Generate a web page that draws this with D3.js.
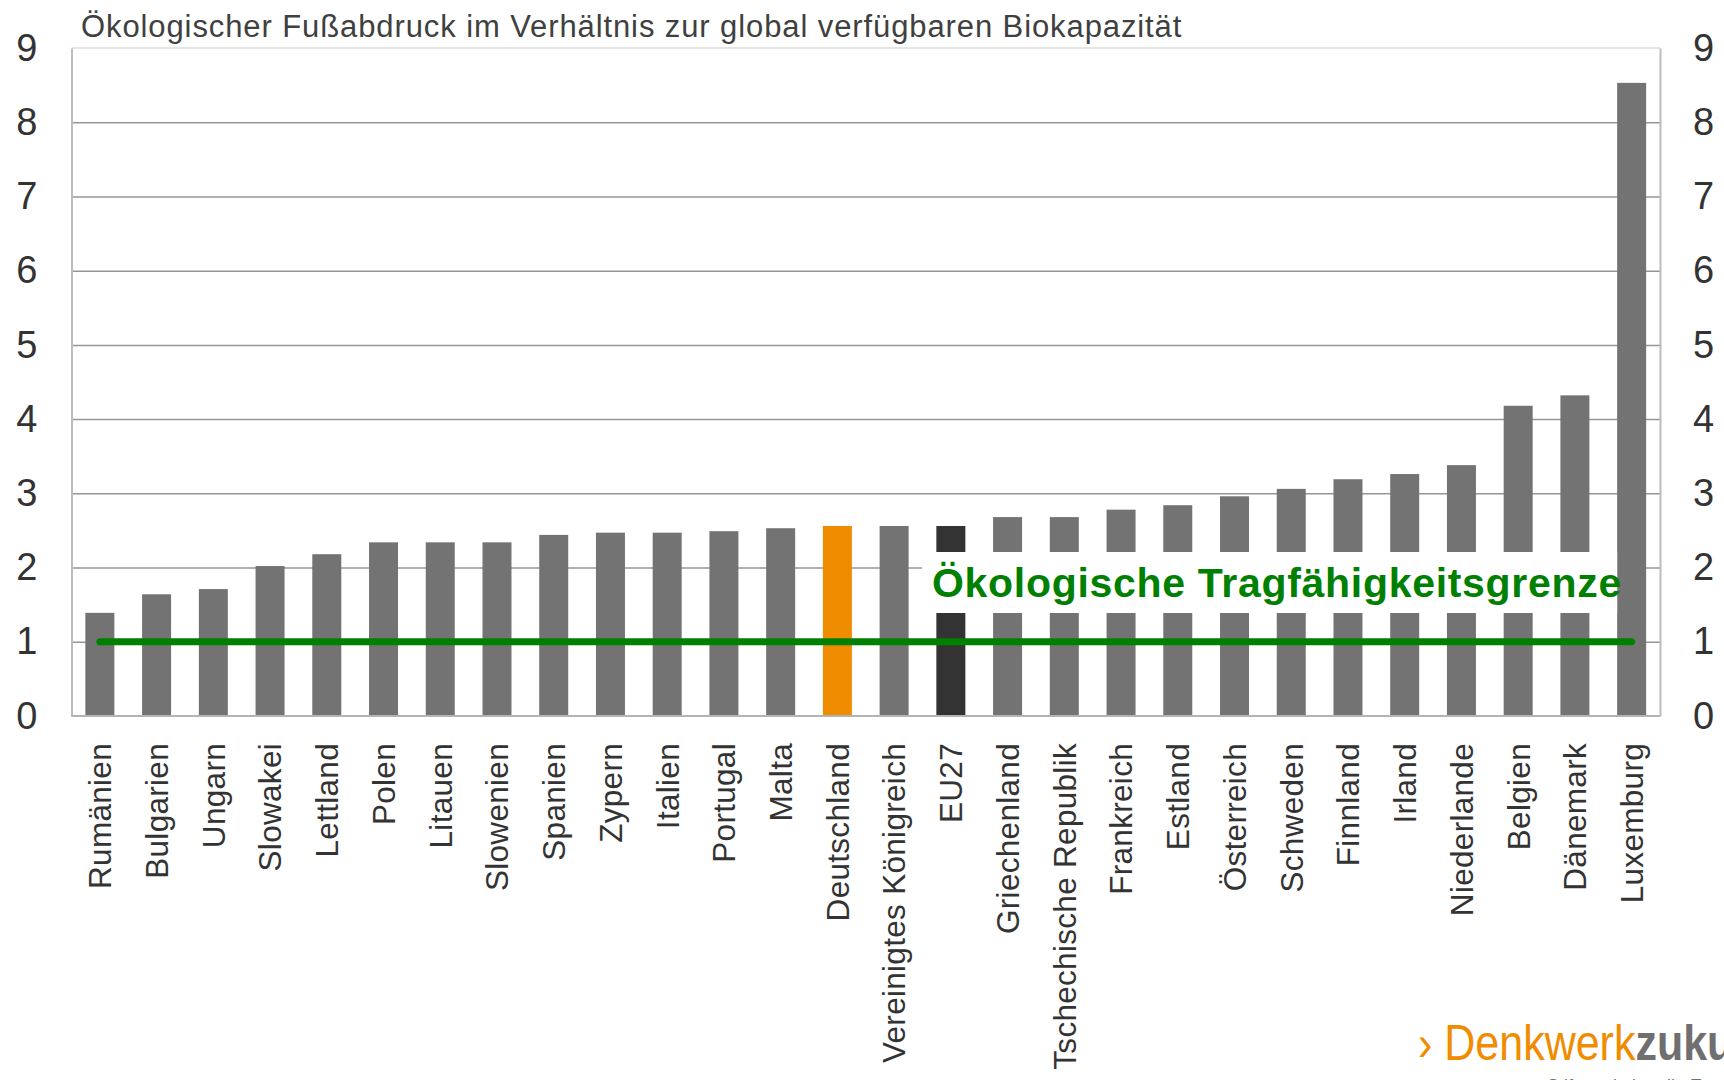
<!DOCTYPE html>
<html>
<head>
<meta charset="utf-8">
<script src="https://cdn.jsdelivr.net/npm/d3@7"></script>
<style>
  body { margin: 0; background: #fff; }
  svg { display: block; font-family: "Liberation Sans", Arial, sans-serif; }
</style>
</head>
<body>
<div id="chart"></div>
<script>
const countries = ["Rumänien", "Bulgarien", "Ungarn", "Slowakei", "Lettland", "Polen", "Litauen",
  "Slowenien", "Spanien", "Zypern", "Italien", "Portugal", "Malta", "Deutschland",
  "Vereinigtes Königreich", "EU27", "Griechenland", "Tschechische Republik", "Frankreich",
  "Estland", "Österreich", "Schweden", "Finnland", "Irland", "Niederlande", "Belgien",
  "Dänemark", "Luxemburg"];
const values = [1.39, 1.64, 1.71, 2.02, 2.18, 2.34, 2.34, 2.34, 2.44, 2.47, 2.47, 2.49, 2.53, 2.56,
  2.56, 2.56, 2.68, 2.68, 2.78, 2.84, 2.96, 3.06, 3.19, 3.26, 3.38, 4.18, 4.32, 8.53];
const yTicks = [0, 1, 2, 3, 4, 5, 6, 7, 8, 9];
const limitValue = 1;
const title = "Ökologischer Fußabdruck im Verhältnis zur global verfügbaren Biokapazität";
const limitLabel = "Ökologische Tragfähigkeitsgrenze";

const W = 1724, H = 1080;
const mLeft = 71.5, mRight = 1660, mTop = 48, mBottom = 716;

const data = countries.map((c, i) => ({ country: c, value: values[i] }));

const svg = d3.select("#chart").append("svg")
  .attr("width", W)
  .attr("height", H);

const x = d3.scaleBand().domain(countries).range([mLeft, mRight])
  .paddingInner(0.489).paddingOuter(0.2445);
const y = d3.scaleLinear().domain([0, 9]).range([mBottom, mTop]);

// gridlines
svg.append("g")
  .attr("transform", `translate(${mLeft},0)`)
  .call(d3.axisLeft(y).tickValues(yTicks.slice(1, -1)).tickSize(-(mRight - mLeft)).tickFormat(""))
  .call(g => g.select(".domain").remove())
  .call(g => g.selectAll("line").attr("stroke", "#969696").attr("stroke-width", 1.5));

// top border
svg.append("line")
  .attr("x1", mLeft).attr("x2", mRight).attr("y1", y(9)).attr("y2", y(9))
  .attr("stroke", "#dcdcdc").attr("stroke-width", 1.5);

// left / right axis lines + labels
svg.append("g")
  .attr("transform", `translate(${mLeft},0)`)
  .call(d3.axisLeft(y).tickValues(yTicks).tickSize(0).tickPadding(34))
  .call(g => g.select(".domain").attr("stroke", "#bdbdbd").attr("stroke-width", 2))
  .call(g => g.selectAll("text").attr("font-size", 38).attr("fill", "#333")
    .attr("font-family", "Liberation Sans, Arial, sans-serif"));

svg.append("g")
  .attr("transform", `translate(${mRight},0)`)
  .call(d3.axisRight(y).tickValues(yTicks).tickSize(0).tickPadding(33))
  .call(g => g.select(".domain").attr("stroke", "#bdbdbd").attr("stroke-width", 2))
  .call(g => g.selectAll("text").attr("font-size", 38).attr("fill", "#333")
    .attr("font-family", "Liberation Sans, Arial, sans-serif"));

// bars
const barColor = d => d.country === "Deutschland" ? "#f08c00" : d.country === "EU27" ? "#333333" : "#737373";
const bars = svg.append("g").selectAll("rect")
  .data(data)
  .enter()
  .append("rect")
  .attr("x", d => x(d.country))
  .attr("y", d => y(d.value))
  .attr("width", x.bandwidth())
  .attr("height", d => y(0) - y(d.value))
  .attr("fill", barColor);

// baseline
svg.append("line")
  .attr("x1", mLeft).attr("x2", mRight).attr("y1", y(0)).attr("y2", y(0))
  .attr("stroke", "#b4b4b4").attr("stroke-width", 2);

// x labels
svg.append("g").selectAll("text")
  .data(countries)
  .enter()
  .append("text")
  .attr("transform", d => `translate(${x(d) + x.bandwidth() / 2},743) rotate(-90)`)
  .attr("dy", "0.36em")
  .attr("text-anchor", "end")
  .attr("font-size", 31.5)
  .attr("letter-spacing", 0.3)
  .attr("fill", "#333")
  .text(d => d);

// limit line
const cx = d => x(d) + x.bandwidth() / 2;
svg.append("line")
  .attr("x1", cx(countries[0])).attr("x2", cx(countries[countries.length - 1]))
  .attr("y1", y(limitValue)).attr("y2", y(limitValue))
  .attr("stroke", "#008000").attr("stroke-width", 7).attr("stroke-linecap", "round");

// limit label box
svg.append("rect")
  .attr("x", 922).attr("y", 552)
  .attr("width", x(countries[countries.length - 1]) - 922)
  .attr("height", 61)
  .attr("fill", "#fff");
svg.append("text")
  .attr("x", 932).attr("y", 597)
  .attr("font-size", 41).attr("font-weight", "bold").attr("fill", "#008000")
  .attr("letter-spacing", 0.7)
  .text(limitLabel);
bars.filter((d, i) => i === countries.length - 1).raise();

// title
svg.append("text")
  .attr("x", 81).attr("y", 37)
  .attr("font-size", 31).attr("fill", "#404040")
  .attr("letter-spacing", 0.9)
  .text(title);

// logo
const logo = svg.append("text")
  .attr("transform", "translate(1418,1060) scale(0.86,1)")
  .attr("font-family", "Liberation Sans Narrow, Arial Narrow, sans-serif")
  .attr("font-size", 50);
logo.append("tspan").attr("fill", "#f08c00").text("› Denkwerk");
logo.append("tspan").attr("fill", "#6f6f70").attr("font-weight", "bold").text("zukunft");
svg.append("text")
  .attr("x", 1547).attr("y", 1092)
  .attr("font-size", 18).attr("fill", "#6f6f70")
  .text("Stiftung kulturelle Erneuerung");
</script>
</body>
</html>
